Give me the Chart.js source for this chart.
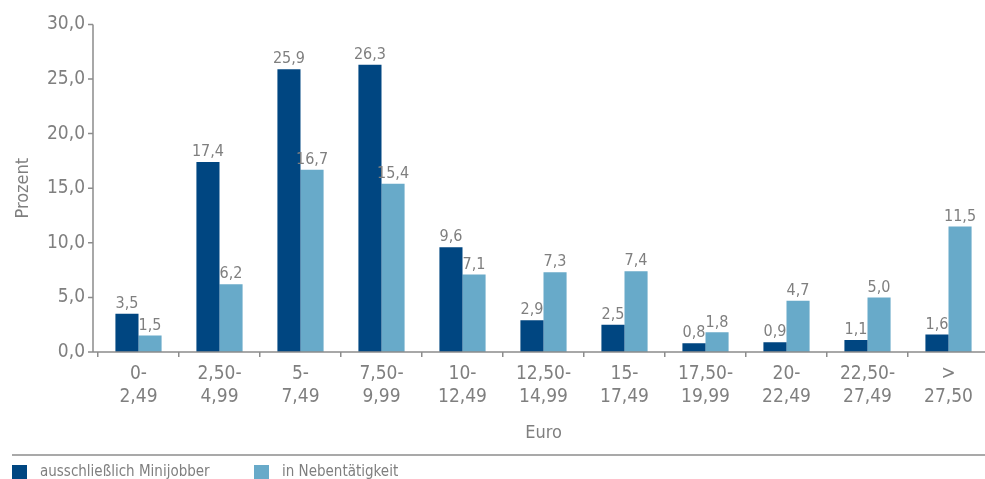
<!DOCTYPE html>
<html lang="de">
<head>
<meta charset="utf-8">
<title>Stundenlohn Minijobber</title>
<script src="https://cdn.jsdelivr.net/npm/chart.js@4/dist/chart.umd.min.js"></script>
<style>
  html, body { margin: 0; padding: 0; background: #fff; overflow: hidden; }
  #wrap { width: 985px; height: 479px; overflow: hidden; }
</style>
</head>
<body>
<div id="wrap"><canvas id="chart" width="1000" height="479"></canvas></div>
<script>
// Stundenlohn-Klassen (Euro), jeweils zweizeilig beschriftet
const kategorien = [
  ['0-', '2,49'], ['2,50-', '4,99'], ['5-', '7,49'], ['7,50-', '9,99'],
  ['10-', '12,49'], ['12,50-', '14,99'], ['15-', '17,49'], ['17,50-', '19,99'],
  ['20-', '22,49'], ['22,50-', '27,49'], ['>', '27,50']
];
const minijobber = [3.5, 17.4, 25.9, 26.3, 9.6, 2.9, 2.5, 0.8, 0.9, 1.1, 1.6];
const nebentaetigkeit = [1.5, 6.2, 16.7, 15.4, 7.1, 7.3, 7.4, 1.8, 4.7, 5.0, 11.5];
const yTicks = [0, 5, 10, 15, 20, 25, 30];

const SCHRIFT = "'Liberation Sans Narrow', 'DejaVu Sans Condensed', 'Open Sans', sans-serif";
const GRAU = '#7f7f7f';
const LINIE = '#8c8c8c';
const DUNKEL = '#004681';
const HELL = '#68aac9';

const fmt = (v) => v.toFixed(1).replace('.', ',');

// Werte über den Balken
const wertePlugin = {
  id: 'werte',
  afterDatasetsDraw(chart) {
    const ctx = chart.ctx;
    ctx.save();
    ctx.font = '16px ' + SCHRIFT;
    ctx.fillStyle = GRAU;
    ctx.textAlign = 'center';
    ctx.textBaseline = 'bottom';
    chart.data.datasets.forEach((ds, i) => {
      chart.getDatasetMeta(i).data.forEach((bar, j) => {
        ctx.fillText(fmt(ds.data[j]), bar.x, bar.y - 2);
      });
    });
    ctx.restore();
  }
};

// Achsenlinien (leicht links vom Plotbereich beginnend) und Y-Striche
const achsenPlugin = {
  id: 'achsen',
  afterDraw(chart) {
    const { ctx, chartArea } = chart;
    const y = chart.scales.y;
    const x0 = chartArea.left - 5;
    ctx.save();
    ctx.strokeStyle = LINIE;
    ctx.lineWidth = 1.5;
    ctx.beginPath();
    ctx.moveTo(x0, chartArea.top);
    ctx.lineTo(x0, chartArea.bottom);
    ctx.lineTo(chartArea.right, chartArea.bottom);
    yTicks.forEach(t => {
      const py = y.getPixelForValue(t);
      ctx.moveTo(x0 - 5, py);
      ctx.lineTo(x0, py);
    });
    ctx.stroke();
    ctx.restore();
  }
};

// Legende unter einer Trennlinie
const legendePlugin = {
  id: 'legende',
  afterDraw(chart) {
    const ctx = chart.ctx;
    const positionen = [12, 254];
    ctx.save();
    ctx.strokeStyle = LINIE;
    ctx.lineWidth = 1.5;
    ctx.beginPath();
    ctx.moveTo(12, 455);
    ctx.lineTo(chart.width, 455);
    ctx.stroke();
    ctx.font = '15px ' + SCHRIFT;
    ctx.textBaseline = 'middle';
    chart.data.datasets.forEach((ds, i) => {
      const x = positionen[i];
      ctx.fillStyle = ds.backgroundColor;
      ctx.fillRect(x, 465, 15, 15);
      ctx.fillStyle = GRAU;
      ctx.fillText(ds.label, x + 28, 472);
    });
    ctx.restore();
  }
};

new Chart(document.getElementById('chart'), {
  type: 'bar',
  data: {
    labels: kategorien,
    datasets: [
      { label: 'ausschließlich Minijobber', data: minijobber, backgroundColor: DUNKEL },
      { label: 'in Nebentätigkeit', data: nebentaetigkeit, backgroundColor: HELL }
    ]
  },
  options: {
    responsive: false,
    animation: false,
    layout: { padding: { top: 22, right: 11, bottom: 0, left: 0 } },
    datasets: { bar: { categoryPercentage: 0.57, barPercentage: 1 } },
    plugins: { legend: { display: false }, tooltip: { enabled: false } },
    scales: {
      x: {
        afterFit: (s) => { s.height = 127; },
        border: { display: false },
        grid: { drawOnChartArea: false, drawTicks: true, tickLength: 5, color: LINIE, lineWidth: 1.5, offset: true },
        ticks: {
          color: GRAU, padding: 6, maxRotation: 0, autoSkip: false,
          font: { family: SCHRIFT, size: 19, lineHeight: '23px' }
        },
        title: {
          display: true, text: 'Euro', color: GRAU,
          font: { family: SCHRIFT, size: 18 },
          padding: { top: 0, bottom: 35 }
        }
      },
      y: {
        min: 0, max: 30,
        afterFit: (s) => { s.width = 98; },
        afterBuildTicks: (s) => { s.ticks = yTicks.map(v => ({ value: v })); },
        border: { display: false },
        grid: { display: false, drawTicks: false },
        ticks: {
          color: GRAU, padding: 13,
          font: { family: SCHRIFT, size: 19 },
          callback: (v) => fmt(v)
        },
        title: {
          display: true, text: 'Prozent', color: GRAU,
          font: { family: SCHRIFT, size: 18 },
          padding: { top: 13, bottom: 0 }
        }
      }
    }
  },
  plugins: [wertePlugin, achsenPlugin, legendePlugin]
});
</script>
</body>
</html>
